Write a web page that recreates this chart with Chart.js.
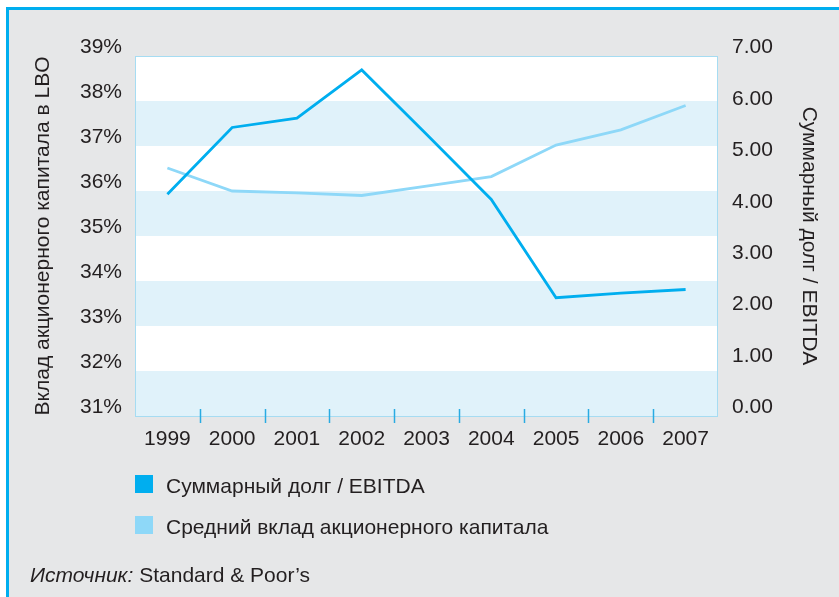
<!DOCTYPE html>
<html>
<head>
<meta charset="utf-8">
<script src="https://cdn.jsdelivr.net/npm/chart.js@4/dist/chart.umd.min.js"></script>
<style>
  body { margin: 0; background: #fff; font-family: "Liberation Sans", Arial, sans-serif; color: #231f20; }
  #frame { position: absolute; left: 6px; top: 7px; right: 0; bottom: 0;
           border-left: 3px solid #00aeef; border-top: 3px solid #00aeef; background: #e6e7e8; }
  #wrap { position: absolute; left: 0; top: 0; width: 839px; height: 597px; }
  #legend { position: absolute; left: 135px; top: 475px; font-size: 21px; line-height: 21px; }
  .item { position: relative; height: 41px; }
  .box { position: absolute; left: 0; top: 0; width: 18px; height: 18px; }
  .txt { position: absolute; left: 31px; top: 0; white-space: nowrap; }
  #source { position: absolute; left: 30px; top: 564px; font-size: 21px; line-height: 21px; white-space: nowrap; }
</style>
</head>
<body>
<div id="frame"></div>
<div id="wrap"><canvas id="chart" width="839" height="597"></canvas></div>
<div id="legend"></div>
<div id="source"><i>Источник:</i> Standard &amp; Poor’s</div>
<script>
const years = ['1999', '2000', '2001', '2002', '2003', '2004', '2005', '2006', '2007']
// Суммарный долг / EBITDA (right axis)
const debtEbitda = [4.31, 5.61, 5.79, 6.73, 5.48, 4.21, 2.30, 2.39, 2.46]
// Средний вклад акционерного капитала, % (left axis)
const equityShare = [36.51, 36.00, 35.96, 35.90, 36.11, 36.32, 37.02, 37.36, 37.90]

const textColor = '#231f20'
const frameBlue = '#a6dcf2'

// white plot area, alternating bands, frame and the small x ticks
const plotDecor = {
  id: 'plotDecor',
  beforeDatasetsDraw(c) {
    const { ctx, chartArea: a } = c
    const y = c.scales.y
    ctx.save()
    ctx.fillStyle = '#fff'
    ctx.fillRect(a.left, a.top, a.right - a.left, a.bottom - a.top)
    ctx.fillStyle = '#e0f2fa'
    for (let v = y.min; v < y.max; v++) {
      if (v % 2 === 1) {
        const top = y.getPixelForValue(v + 1)
        const bot = y.getPixelForValue(v)
        ctx.fillRect(a.left, top, a.right - a.left, bot - top)
      }
    }
    ctx.strokeStyle = frameBlue
    ctx.lineWidth = 1
    ctx.strokeRect(a.left + 0.5, a.top + 0.5, a.right - a.left - 1, a.bottom - a.top)
    const x = c.scales.x
    ctx.strokeStyle = '#29abe2'
    ctx.lineWidth = 1.5
    for (let i = 1; i < years.length; i++) {
      const px = Math.round((x.getPixelForValue(i - 1) + x.getPixelForValue(i)) / 2) + 0.5
      ctx.beginPath()
      ctx.moveTo(px, a.bottom - 7)
      ctx.lineTo(px, a.bottom + 7)
      ctx.stroke()
    }
    ctx.restore()
  }
}

const font = { family: '"Liberation Sans", Arial, sans-serif', size: 21 }

const chart = new Chart(document.getElementById('chart'), {
  type: 'line',
  data: {
    labels: years,
    datasets: [
      {
        label: 'Суммарный долг / EBITDA',
        data: debtEbitda,
        yAxisID: 'y1',
        borderColor: '#00aeef',
        backgroundColor: '#00aeef',
        borderWidth: 2.8
      },
      {
        label: 'Средний вклад акционерного капитала',
        data: equityShare,
        yAxisID: 'y',
        borderColor: '#8ed8f8',
        backgroundColor: '#8ed8f8',
        borderWidth: 2.8
      }
    ]
  },
  options: {
    responsive: false,
    animation: false,
    layout: { padding: { top: 56, left: 0, right: 0, bottom: 0 } },
    elements: { point: { radius: 0 }, line: { tension: 0 } },
    plugins: { legend: { display: false }, tooltip: { enabled: false } },
    scales: {
      x: {
        offset: true,
        grid: { display: false, drawTicks: false },
        border: { display: false },
        ticks: { color: textColor, font: font, padding: 11, maxRotation: 0 },
        afterFit(s) { s.height = 181 }
      },
      y: {
        position: 'left',
        min: 31, max: 39,
        grid: { display: false, drawTicks: false },
        border: { display: false },
        ticks: { stepSize: 1, color: textColor, font: font, padding: 13, labelOffset: -8.5,
                 callback: v => v + '%' },
        title: { display: true, text: 'Вклад акционерного капитала в LBO', color: textColor,
                 font: font, padding: { top: 31, bottom: 0 } },
        afterFit(s) { s.width = 135 }
      },
      y1: {
        position: 'right',
        min: 0, max: 7,
        grid: { display: false, drawTicks: false },
        border: { display: false },
        ticks: { stepSize: 1, color: textColor, font: font, padding: 14, labelOffset: -8.5,
                 callback: v => v.toFixed(2) },
        title: { display: true, text: 'Суммарный долг / EBITDA', color: textColor,
                 font: font, padding: { top: 18, bottom: 0 } },
        afterFit(s) { s.width = 121 }
      }
    }
  },
  plugins: [plotDecor]
})

// legend as a vertical list, taken from the datasets
const legend = document.getElementById('legend')
chart.data.datasets.forEach(ds => {
  const item = document.createElement('div')
  item.className = 'item'
  item.innerHTML = `<span class="box" style="background:${ds.borderColor}"></span><span class="txt">${ds.label}</span>`
  legend.appendChild(item)
})
</script>
</body>
</html>
